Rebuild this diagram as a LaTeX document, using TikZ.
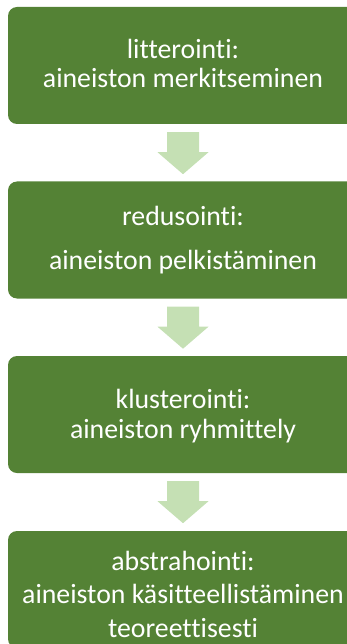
\documentclass[tikz,border=0pt]{standalone}
\usepackage{fontspec}
\setmainfont{Carlito}[Ligatures=NoCommon]
\definecolor{boxgreen}{HTML}{548235}
\definecolor{arrowgreen}{HTML}{C5E0B4}
\tikzset{
  stepbox/.style={fill=boxgreen, draw=none, rounded corners=9pt, minimum width=350pt, minimum height=117pt, inner sep=0pt},
  steptext/.style={text=white, align=center, font=\fontsize{27.8}{33}\selectfont, inner sep=0pt},
  arrowfill/.style={fill=arrowgreen, draw=none}
}
\begin{document}
\begin{tikzpicture}[x=1pt,y=-1pt]
\useasboundingbox (0,0) rectangle (347,644);
\clip (0,0) rectangle (347,644);
\node[stepbox] (b1) at (183,65.5) {};
\node[stepbox] (b2) at (183,240) {};
\node[stepbox] (b3) at (183,414.5) {};
\node[stepbox] (b4) at (183,589.5) {};
\node[steptext, anchor=base] (t1a) at (183,59) {litterointi:};
\node[steptext, anchor=base] (t1b) at (183,88) {aineiston merkitseminen};
\node[steptext, anchor=base] (t2a) at (183,225) {redusointi:};
\node[steptext, anchor=base] (t2b) at (183,269) {aineiston pelkistäminen};
\node[steptext, anchor=base] (t3a) at (183,408) {klusterointi:};
\node[steptext, anchor=base] (t3b) at (183,438) {aineiston ryhmittely};
\node[steptext, anchor=base] (t4a) at (183,570) {abstrahointi:};
\node[steptext, anchor=base] (t4b) at (183,603) {aineiston käsitteellistäminen};
\node[steptext, anchor=base] (t4c) at (183,637) {teoreettisesti};
\foreach \a/\b in {b1/b2,b2/b3,b3/b4}{
  \path (\a.south) ++(0,8) coordinate (top);
  \fill[arrowfill] (top) +(-16,0) -- +(16,0) -- +(16,20) -- +(25.5,20) -- +(0,42) -- +(-25.5,20) -- +(-16,20) -- cycle;
}
\end{tikzpicture}
\end{document}
